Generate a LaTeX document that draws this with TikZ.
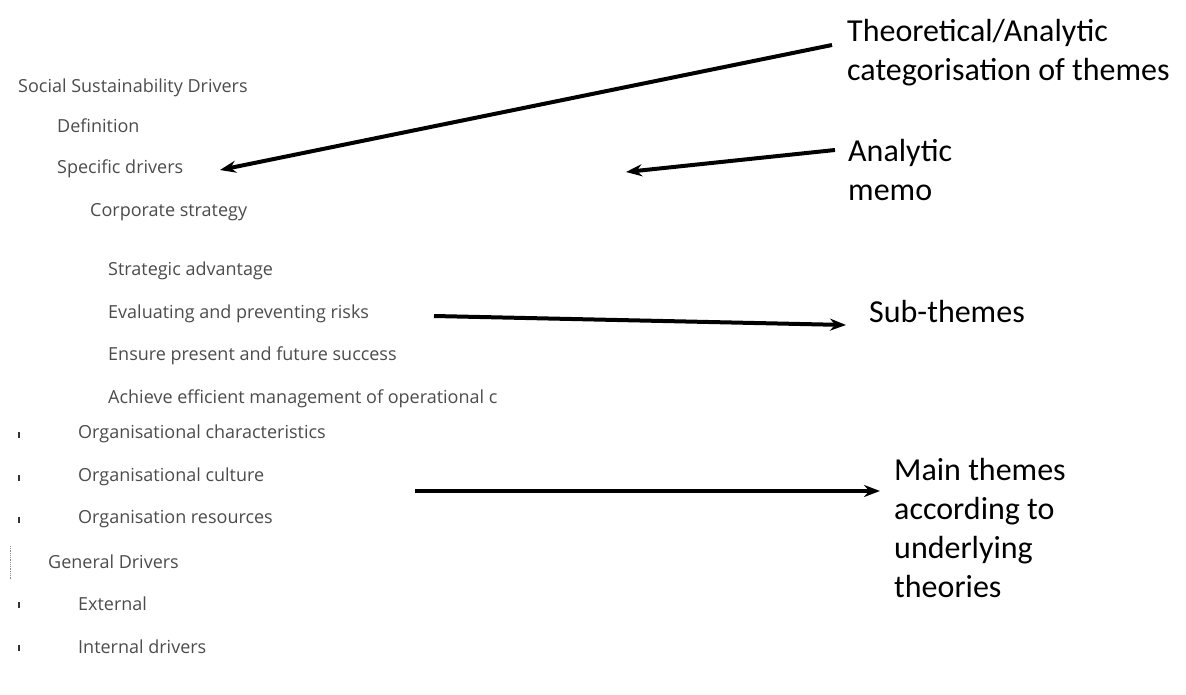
\documentclass[tikz,border=0pt]{standalone}
\usepackage{fontspec}
\setmainfont{Open Sans}
\newfontfamily\labelfont{Carlito}
\usetikzlibrary{arrows.meta}
\begin{document}
\begin{tikzpicture}[x=1pt,y=-1pt,
  item/.style={anchor=west,inner sep=0pt,font=\fontsize{18}{20}\selectfont,text=black!70},
  note/.style={anchor=north west,inner sep=0pt,align=left,font=\labelfont\fontsize{32}{39}\selectfont,text=black},
  pointer/.style={line width=4pt,-{Stealth[length=16pt,width=12pt]}},
  tick/.style={line width=1.6pt,black!80}]
\useasboundingbox (0,0) rectangle (1186,695);
\fill[white] (0,0) rectangle (1186,695);

% outline of themes
\node[item] (ssd) at (18,88) {Social Sustainability Drivers};
\node[item] (def) at (57,126) {Definition};
\node[item] (spec) at (57,169) {Specific drivers};
\node[item] (corp) at (90,212) {Corporate strategy};
\node[item] (adv) at (108,271) {Strategic advantage};
\node[item] (risk) at (108,314) {Evaluating and preventing risks};
\node[item] (succ) at (108,356) {Ensure present and future success};
\node[item] (eff) at (108,399) {Achieve efficient management of operational c};
\node[item] (ochar) at (78,434) {Organisational characteristics};
\node[item] (ocult) at (78,477) {Organisational culture};
\node[item] (ores) at (78,519) {Organisation resources};
\node[item] (gen) at (48,562) {General Drivers};
\node[item] (ext) at (78,604) {External};
\node[item] (int) at (78,647) {Internal drivers};

% bullet marks
\foreach \yy in {434,477,519,604,647}
  \draw[tick] (19,\yy-2) -- (19,\yy+4);
\draw[black!45,densely dotted,line width=0.8pt] (10,546) -- (10,580);

% explanatory labels
\node[note] (theo) at (847,19) {Theoretical/Analytic\\categorisation of themes};
\node[note] (memo) at (848,139) {Analytic\\memo};
\node[note] (sub) at (869,300) {Sub-themes};
\node[note] (main) at (894,458) {Main themes\\according to\\underlying\\theories};

% arrow end points
\coordinate (t0) at (832,45);
\coordinate (t1) at (220,170);
\coordinate (m0) at (835,150);
\coordinate (m1) at (626,172);
\coordinate (s0) at (434,316);
\coordinate (s1) at (846,325);
\coordinate (c0) at (415,491);
\coordinate (c1) at (880,491);

\draw[pointer] (t0) -- (t1);
\draw[pointer] (m0) -- (m1);
\draw[pointer] (s0) -- (s1);
\draw[pointer] (c0) -- (c1);
\end{tikzpicture}
\end{document}
